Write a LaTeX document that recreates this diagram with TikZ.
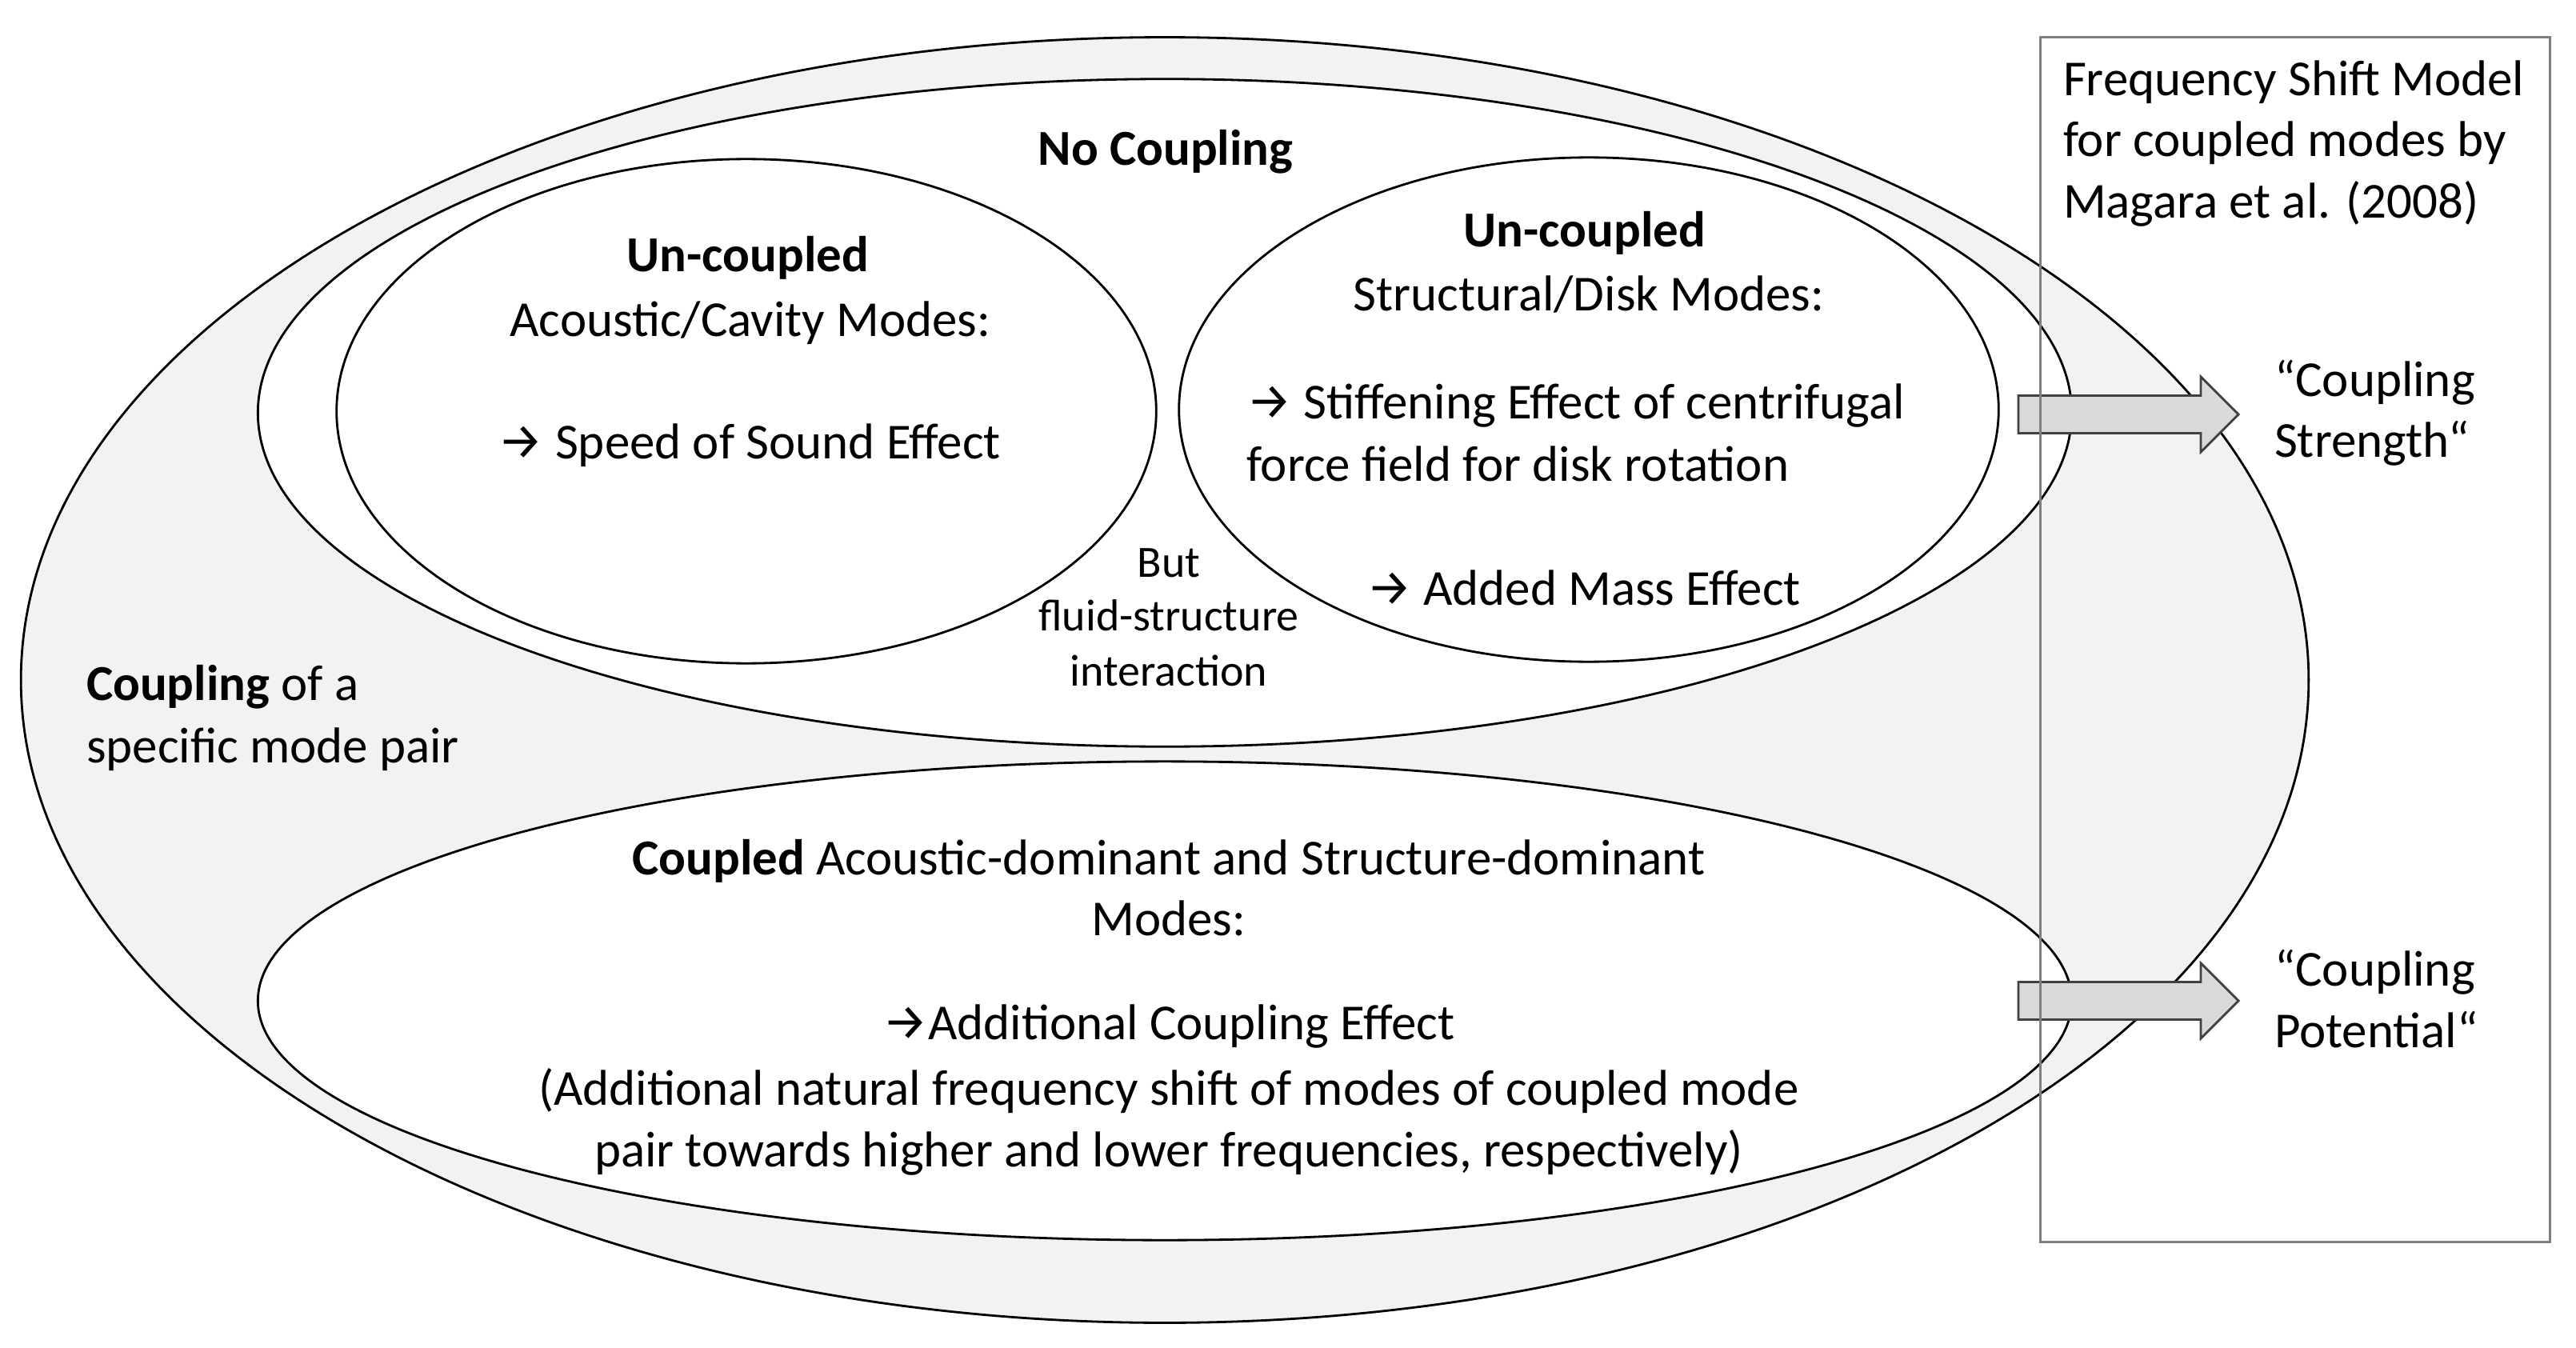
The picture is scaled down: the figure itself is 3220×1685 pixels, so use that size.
\documentclass[tikz,border=0pt]{standalone}
\usepackage{fontspec}
\setmainfont{Carlito}
\newfontfamily\arrowfont{Fira Sans}
\newcommand{\myarr}{{\arrowfont\fontsize{18}{21}\selectfont →}}
\usetikzlibrary{shapes.geometric}
\definecolor{ringgray}{HTML}{F2F2F2}
\definecolor{arrowfill}{HTML}{D9D9D9}
\definecolor{arrowline}{HTML}{404040}
\definecolor{framegray}{HTML}{7F7F7F}
\begin{document}
\begin{tikzpicture}[x=0.01cm,y=-0.01cm,
  every node/.style={font=\fontsize{17.9}{21.6}\selectfont, inner sep=0pt, outer sep=0pt},
  region/.style={ellipse, draw=black, line width=0.8pt, inner sep=0pt},
  txt/.style={anchor=base},
  txtl/.style={anchor=base west},
  small/.style={font=\fontsize{15.9}{19.3}\selectfont},
  blockarrow/.style={draw=arrowline, fill=arrowfill, line width=0.8pt, line join=miter},
  frame/.style={draw=framegray, line width=0.8pt}]
\useasboundingbox (0,0) rectangle (3220,1685);
% regions
\node[region, fill=ringgray, minimum width=28.58cm, minimum height=16.06cm] (outer) at (1456,850) {};
\node[region, fill=white, minimum width=22.66cm, minimum height=8.34cm] (nocoup) at (1456,516) {};
\node[region, fill=white, minimum width=10.24cm, minimum height=6.30cm] (acou) at (933,514) {};
\node[region, fill=white, minimum width=10.24cm, minimum height=6.30cm] (struc) at (1986,512) {};
\node[region, fill=white, minimum width=22.66cm, minimum height=5.98cm] (coup) at (1456,1251) {};
% block arrows
\coordinate (a1s) at (2523,518);
\coordinate (a2s) at (2523,1251);
\draw[blockarrow] (a1s) ++(0,-23.5) -- ++(228,0) -- ++(0,-23.5) -- ++(47,47) -- ++(-47,47) -- ++(0,-23.5) -- ++(-228,0) -- cycle;
\draw[blockarrow] (a2s) ++(0,-23.5) -- ++(228,0) -- ++(0,-23.5) -- ++(47,47) -- ++(-47,47) -- ++(0,-23.5) -- ++(-228,0) -- cycle;
% frame
\node[frame, minimum width=6.36cm, minimum height=15.05cm] (model) at (2869,799.5) {};
% texts
\node[txt] (nct) at (1457,207) {\textbf{No Coupling}};
\node[txt] (ac1) at (935,340) {\textbf{Un-coupled}};
\node[txt] (ac2) at (938,420) {Acoustic/Cavity Modes:};
\node[txt] (ac3) at (937,573) {\myarr\ Speed of Sound Effect};
\node[txt] (st1) at (1981,309) {\textbf{Un-coupled}};
\node[txt] (st2) at (1986,389) {Structural/Disk Modes:};
\node[txtl] (st3) at (1558,523) {\myarr\ Stiffening Effect of centrifugal};
\node[txtl] (st4) at (1558,601) {force field for disk rotation};
\node[txtl] (st5) at (1708,756) {\myarr\ Added Mass Effect};
\node[txt, small] (fs1) at (1461,721) {But};
\node[txt, small] (fs2) at (1461,788) {fluid-structure};
\node[txt, small] (fs3) at (1461,857) {interaction};
\node[txtl] (cp1) at (108,875) {\textbf{Coupling} of a};
\node[txtl] (cp2) at (108,953) {specific mode pair};
\node[txt] (cd1) at (1461,1093) {\textbf{Coupled} Acoustic-dominant and Structure-dominant};
\node[txt] (cd2) at (1461,1169) {Modes:};
\node[txt] (cd3) at (1461,1299) {\myarr Additional Coupling Effect};
\node[txt] (cd4) at (1461,1381) {(Additional natural frequency shift of modes of coupled mode};
\node[txt] (cd5) at (1461,1458) {pair towards higher and lower frequencies, respectively)};
\node[txtl] (fm1) at (2579,120) {Frequency Shift Model};
\node[txtl] (fm2) at (2579,196) {for coupled modes by};
\node[txtl] (fm3) at (2579,272) {Magara et al. (2008)};
\node[txtl] (cs1) at (2843,495) {“Coupling};
\node[txtl] (cs2) at (2843,571) {Strength“};
\node[txtl] (cpo1) at (2843,1232) {“Coupling};
\node[txtl] (cpo2) at (2843,1309) {Potential“};
\end{tikzpicture}
\end{document}
